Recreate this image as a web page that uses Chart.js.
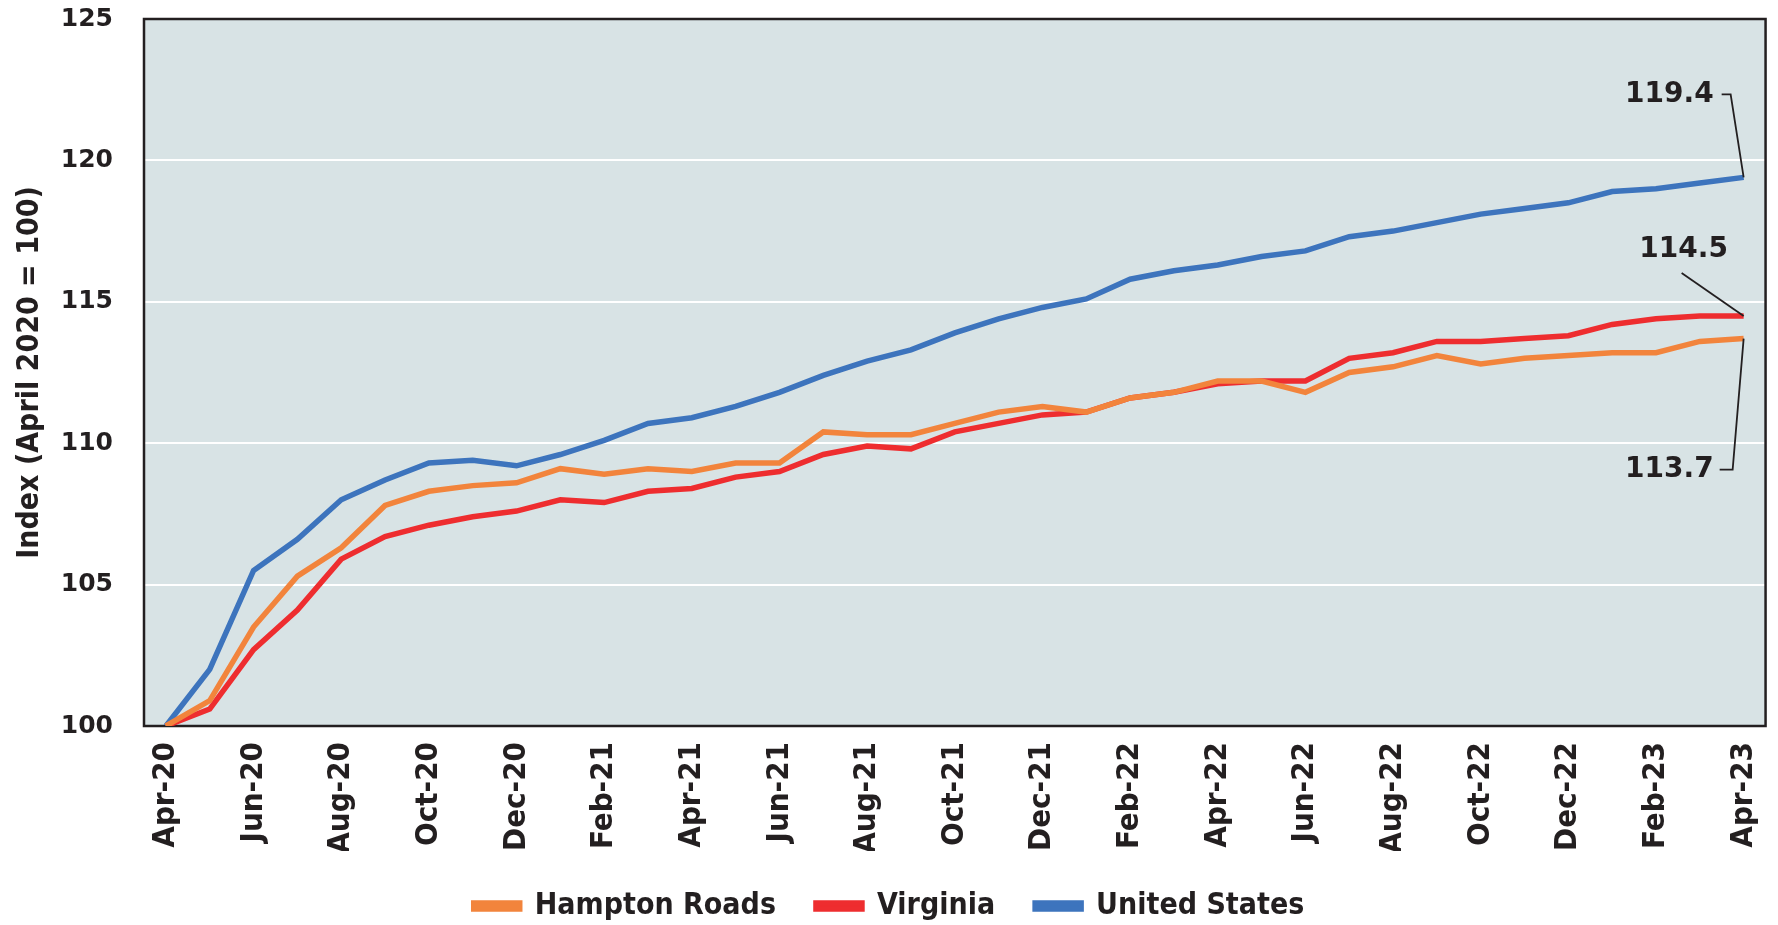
<!DOCTYPE html>
<html>
<head>
<meta charset="utf-8">
<script src="https://cdn.jsdelivr.net/npm/chart.js@4.4.0/dist/chart.umd.min.js"></script>
<style>
  html, body { margin: 0; padding: 0; background: #fff; }
  #wrap { width: 1778px; height: 925px; position: relative; }
</style>
</head>
<body>
<div id="wrap"><canvas id="indexChart"></canvas></div>
<script>
// months, Apr-20 .. Apr-23
const months = [
  "Apr-20","May-20","Jun-20","Jul-20","Aug-20","Sep-20","Oct-20","Nov-20","Dec-20",
  "Jan-21","Feb-21","Mar-21","Apr-21","May-21","Jun-21","Jul-21","Aug-21","Sep-21","Oct-21","Nov-21","Dec-21",
  "Jan-22","Feb-22","Mar-22","Apr-22","May-22","Jun-22","Jul-22","Aug-22","Sep-22","Oct-22","Nov-22","Dec-22",
  "Jan-23","Feb-23","Mar-23","Apr-23"
];

const hamptonRoads = [100, 100.9, 103.5, 105.3, 106.3, 107.8, 108.3, 108.5, 108.6, 109.1, 108.9, 109.1, 109.0,
  109.3, 109.3, 110.4, 110.3, 110.3, 110.7, 111.1, 111.3, 111.1, 111.6, 111.8, 112.2, 112.2, 111.8,
  112.5, 112.7, 113.1, 112.8, 113.0, 113.1, 113.2, 113.2, 113.6, 113.7];

const virginia = [100, 100.6, 102.7, 104.1, 105.9, 106.7, 107.1, 107.4, 107.6, 108.0, 107.9, 108.3, 108.4,
  108.8, 109.0, 109.6, 109.9, 109.8, 110.4, 110.7, 111.0, 111.1, 111.6, 111.8, 112.1, 112.2, 112.2,
  113.0, 113.2, 113.6, 113.6, 113.7, 113.8, 114.2, 114.4, 114.5, 114.5];

const unitedStates = [100, 102.0, 105.5, 106.6, 108.0, 108.7, 109.3, 109.4, 109.2, 109.6, 110.1, 110.7, 110.9,
  111.3, 111.8, 112.4, 112.9, 113.3, 113.9, 114.4, 114.8, 115.1, 115.8, 116.1, 116.3, 116.6, 116.8,
  117.3, 117.5, 117.8, 118.1, 118.3, 118.5, 118.9, 119.0, 119.2, 119.4];

const yMin = 100, yMax = 125, yStep = 5;

const textColor = "#231f20";
const condensed = "'DejaVu Sans Condensed', 'DejaVu Sans', sans-serif";
const wide = "'DejaVu Sans', sans-serif";

// plot background + frame
const plotFrame = {
  id: "plotFrame",
  beforeDraw(chart) {
    const { ctx, chartArea: a } = chart;
    ctx.save();
    ctx.fillStyle = "#d8e3e5";
    ctx.fillRect(a.left, a.top, a.right - a.left, a.bottom - a.top);
    ctx.restore();
  },
  beforeDatasetsDraw(chart) {
    const { ctx, chartArea: a } = chart;
    ctx.save();
    ctx.strokeStyle = "#231f20";
    ctx.lineWidth = 2.5;
    ctx.strokeRect(a.left, a.top, a.right - a.left, a.bottom - a.top);
    ctx.restore();
  }
};

// end value callouts with leader lines
const endLabels = {
  id: "endLabels",
  afterDatasetsDraw(chart) {
    const ctx = chart.ctx;
    const last = months.length - 1;
    const pt = (i) => chart.getDatasetMeta(i).data[last];
    ctx.save();
    ctx.strokeStyle = "#231f20";
    ctx.lineWidth = 1.8;
    ctx.fillStyle = textColor;
    ctx.font = "bold 28px " + wide;
    ctx.textBaseline = "middle";

    // United States
    let p = pt(2);
    ctx.beginPath();
    ctx.moveTo(p.x - 22, p.y - 83);
    ctx.lineTo(p.x - 13, p.y - 83);
    ctx.lineTo(p.x, p.y);
    ctx.stroke();
    ctx.textAlign = "right";
    ctx.fillText(unitedStates[last].toFixed(1), p.x - 30, p.y - 83);

    // Virginia
    p = pt(1);
    ctx.beginPath();
    ctx.moveTo(p.x - 62, p.y - 43);
    ctx.lineTo(p.x, p.y);
    ctx.stroke();
    ctx.textAlign = "center";
    ctx.fillText(virginia[last].toFixed(1), p.x - 60, p.y - 66);

    // Hampton Roads
    p = pt(0);
    ctx.beginPath();
    ctx.moveTo(p.x - 24, p.y + 131);
    ctx.lineTo(p.x - 11, p.y + 131);
    ctx.lineTo(p.x, p.y);
    ctx.stroke();
    ctx.textAlign = "right";
    ctx.fillText(hamptonRoads[last].toFixed(1), p.x - 30, p.y + 131);
    ctx.restore();
  }
};

function line(label, data, color) {
  return {
    label: label,
    data: data,
    borderColor: color,
    backgroundColor: color,
    borderWidth: 5.5,
    pointRadius: 0,
    tension: 0,
    fill: false
  };
}

new Chart(document.getElementById("indexChart"), {
  type: "line",
  data: {
    labels: months,
    datasets: [
      line("Hampton Roads", hamptonRoads, "#f2843c"),
      line("Virginia", virginia, "#ee2d2f"),
      line("United States", unitedStates, "#3d74bd")
    ]
  },
  options: {
    responsive: true,
    maintainAspectRatio: false,
    animation: false,
    devicePixelRatio: 1,
    layout: { padding: { top: 19, right: 0, left: 0, bottom: -6 } },
    plugins: {
      tooltip: { enabled: false },
      legend: {
        position: "bottom",
        labels: {
          boxWidth: 46,
          boxHeight: 6,
          padding: 40,
          color: textColor,
          font: { family: condensed, size: 30, weight: "bold" }
        }
      }
    },
    scales: {
      x: {
        offset: true,
        grid: { display: false },
        border: { display: false },
        ticks: {
          autoSkip: false,
          maxRotation: 90,
          minRotation: 90,
          padding: 8,
          color: textColor,
          font: { family: condensed, size: 31, weight: "bold", lineHeight: 0.85 },
          callback: function (v, i) { return i % 2 === 0 ? months[i] : ""; }
        },
        afterFit: function (s) { s.height = 125; }
      },
      y: {
        min: yMin,
        max: yMax,
        grid: { color: "#ffffff", lineWidth: 2, drawTicks: true, tickLength: 31, tickColor: "rgba(0,0,0,0)" },
        border: { display: false },
        ticks: {
          stepSize: yStep,
          padding: 0,
          color: textColor,
          font: { family: wide, size: 25, weight: "bold" }
        },
        title: {
          display: true,
          text: "Index (April 2020 = 100)",
          color: textColor,
          padding: { top: 12, bottom: 0 },
          font: { family: condensed, size: 30, weight: "bold" }
        },
        afterFit: function (s) { s.width = 144; }
      }
    }
  },
  plugins: [plotFrame, endLabels]
});
</script>
</body>
</html>
